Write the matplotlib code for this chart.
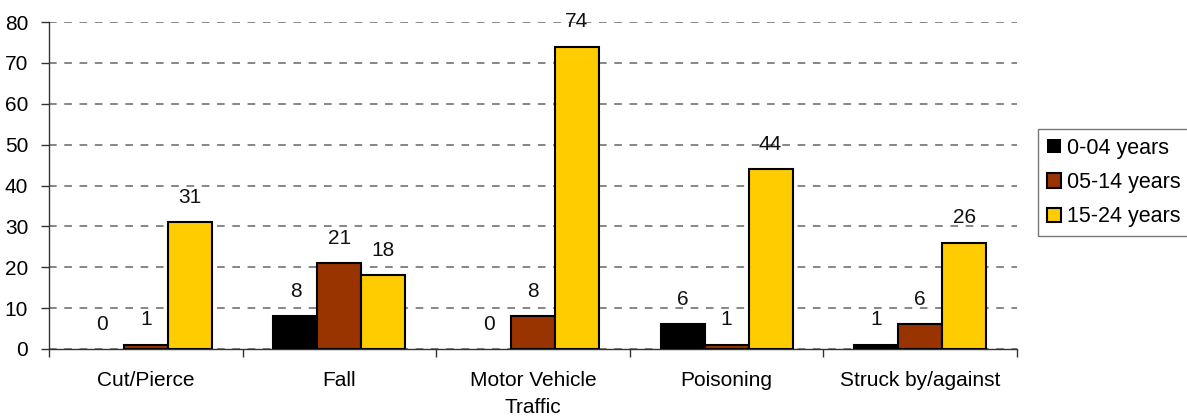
import matplotlib.pyplot as plt
import numpy as np

plt.rcParams['font.family'] = ['Liberation Sans', 'DejaVu Sans']

categories = ['Cut/Pierce', 'Fall', 'Motor Vehicle\nTraffic', 'Poisoning', 'Struck by/against']
series_names = ['0-04 years', '05-14 years', '15-24 years']
age_0_04 = [0, 8, 0, 6, 1]
age_05_14 = [1, 21, 8, 1, 6]
age_15_24 = [31, 18, 74, 44, 26]
colors = ['#000000', '#993300', '#FFCC00']

fig = plt.figure(figsize=(11.87, 4.17), dpi=100)
ax = fig.add_axes([49 / 1187, 1 - 349 / 417, 968 / 1187, 327 / 417])

x = np.arange(len(categories))
w = 0.227
fs = 15
for i, (vals, name, c) in enumerate(zip([age_0_04, age_05_14, age_15_24], series_names, colors)):
    pos = x + (i - 1) * w
    lws = [0 if v == 0 else 1.5 for v in vals]
    ax.bar(pos, vals, width=w, color=c, edgecolor='black', linewidth=lws, label=name, zorder=3)
    for px, v in zip(pos, vals):
        ax.annotate(str(v), (px, v), xytext=(0, 14), textcoords='offset points',
                    ha='center', va='baseline', fontsize=fs, color='#111111')

ax.set_xlim(-0.5, len(categories) - 0.5)
ax.set_ylim(0, 80)
ax.set_yticks(range(0, 81, 10))
ax.yaxis.grid(True, linestyle=(0, (5, 5)), color='#666666', linewidth=1.1, zorder=0)
ax.set_axisbelow(True)

ax.set_xticks(x)
ax.set_xticklabels(categories, linespacing=1.55)
ax.set_xticks(np.arange(-0.5, len(categories), 1), minor=True)
ax.tick_params(axis='x', which='major', length=0, pad=16, labelsize=fs)
ax.tick_params(axis='x', which='minor', length=6, width=1, direction='out', color='#333333')
ax.tick_params(axis='y', length=6, width=1, direction='out', pad=9, labelsize=fs, color='#333333')

for s in ['top', 'right']:
    ax.spines[s].set_visible(False)
for s in ['left', 'bottom']:
    ax.spines[s].set_linewidth(1)
    ax.spines[s].set_color('#333333')

leg = fig.legend(loc='upper left', bbox_to_anchor=(1038 / 1187, 1 - 129 / 417),
                 fontsize=15.5, frameon=True, fancybox=False, handlelength=0.65,
                 handleheight=0.65, handletextpad=0.3, labelspacing=0.62,
                 borderpad=0.4, borderaxespad=0, edgecolor='#555555')
leg.get_frame().set_linewidth(1)

fig.savefig('out.png', dpi=100)
